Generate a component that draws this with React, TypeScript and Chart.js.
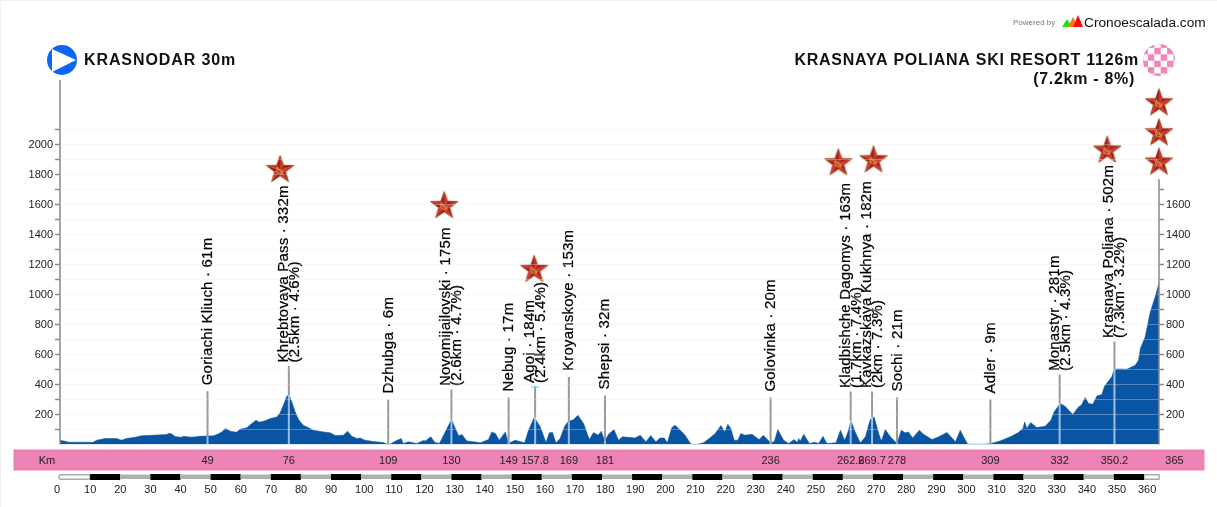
import React, { useEffect, useRef } from "react";
import { Chart, registerables } from "chart.js";
Chart.register(...registerables);

const profileKm = [0,1.7,3,11,12.2,15,18.8,20.5,22,25,27,35.4,36.2,37,38.4,40.4,41,43.7,46.5,51,52.6,53.7,55,56.5,58.7,59.8,62,63.7,65.1,66.2,68.1,69.8,72,73.1,74.2,75.3,76,77,78.1,79.2,80.8,84.2,87.5,89.7,91.4,94.1,95.5,96.9,98.6,99.7,101.3,104.1,107.4,108.7,109.6,111.3,113.3,114,115.7,118.5,120.7,
121.3,123.2,124.4,126,127.4,130,131.3,132.4,133.5,135.1,137.4,139.6,142.3,143.4,144.6,145.9,147.9,148.8,149.5,151.2,154.3,155.6,157.5,159.5,161.4,162.5,163.6,164.7,166.1,167.6,168.7,170.6,172,173.9,175.8,177.2,178.7,179.8,180.9,182.2,184,
185.5,186.8,191,192.7,194.6,196.2,197.9,199.3,200.7,201.7,203.2,204.3,206,207.6,209.6,211.3,213.7,215.6,217.6,219.5,220.8,221.8,222.8,223.9,225.1,226.1,227.5,229.8,232.2,233.6,235.9,237.2,238.4,240.3,242,243.8,244.9,
245.3,245.9,247,248.9,250.6,252,253.4,254.7,257.7,259.2,260.6,261.7,262.7,264.1,265.8,267.5,269.1,270.4,271.9,272.8,274.1,275.8,278,279.4,280.7,281.8,283.2,285.4,286.8,289.6,291.8,294.6,297.4,299,300.1,301.5,306.2,
308.9,312.2,315.6,318.3,319.8,320.4,321.1,322.4,324.4,327.2,329.1,330.2,332.2,333.8,336.4,338.3,339.2,340.5,341.6,343,344.4,346,346.9,349.3,350.1,351.2,354.3,357.1,358.2,358.8,360.4,362.1,363.7,364.8,365];
const profileElev = [28,22,15,15,29,40,40,29,40,49,58,67,75,71,51,49,55,49,55,58,71,84,107,89,82,102,111,140,162,149,158,173,184,211,262,322,330,284,218,167,129,95,84,78,60,62,89,55,40,44,29,20,13,2,2,22,40,7,18,7,27,
24,51,15,7,62,166,107,58,67,24,18,11,33,84,73,29,84,18,13,29,11,95,180,118,13,78,80,11,40,122,151,166,195,140,33,80,62,89,24,69,100,
29,51,44,62,18,60,18,44,44,11,113,129,95,62,2,0,11,40,73,127,84,135,107,29,29,73,62,69,33,62,13,18,100,29,7,33,13,
40,24,69,7,15,7,55,7,11,95,29,84,158,84,11,51,166,184,73,24,100,51,7,95,78,84,44,95,69,33,51,80,18,95,51,2,1,
5,24,51,80,107,151,107,146,113,122,162,218,273,255,200,251,262,313,273,269,324,333,389,451,500,504,502,528,562,640,717,884,984,1061,1085];

const stemKm = [49,76,109,130,149,157.8,169,181,236,262.6,269.7,278,309,332,350.2];
const stemTop = [355,523,300,367,313,387,450,327,313,353,353,313,300,467,687];
const stemFoot = [55,330,2,166,18,180,151,24,13,158,184,7,3,273,500];
const stemNames = ["Goriachi Kliuch · 61m","Khrebtovaya Pass · 332m","Dzhubga · 6m","Novomijailovski · 175m","Nebug · 17m","Agoi · 184m","Kroyanskoye · 153m","Shepsi · 32m","Golovinka · 20m","Kladbishche Dagomys · 163m","Kavkazskaya Kukhnya · 182m","Sochi · 21m","Adler · 9m","Monastyr · 281m","Krasnaya Poliana · 502m"];
const stemSub = ["","(2.5km · 4.6%)","","(2.6km · 4.7%)","","(2.4km · 5.4%)","","","","(1.7km · 7.4%)","(2km · 7.3%)","","","(2.5km · 4.3%)","(7.3km · 3.2%)"];
const stemKmLabels = ["49","76","109","130","149","157.8","169","181","236","262.6","269.7","278","309","332","350.2"];

const starKm = [73.1,127.6,157.5,258.5,270.2,347.8,365,365,365];
const starElev = [1830,1590,1165,1875,1895,1960,1880,2075,2275];

const rulerKm = [0,10,20,30,40,50,60,70,80,90,100,110,120,130,140,150,160,170,180,190,200,210,220,230,240,250,260,270,280,290,300,310,320,330,340,350,360];
const leftTicks = [100,200,300,400,500,600,700,800,900,1000,1100,1200,1300,1400,1500,1600,1700,1800,1900,2000,2100];
const rightTicks = [100,200,300,400,500,600,700,800,900,1000,1100,1200,1300,1400,1500,1600,1700];
const rightAxisTop = 1770;
const leftAxisTop = 2430;

const FONT = '"Liberation Sans", Arial, sans-serif';
const BLUE = "#0a55a3";
const PINK = "#ec82b5";

function makeStar(): HTMLCanvasElement {
  const c = document.createElement("canvas");
  c.width = 32; c.height = 32;
  const g = c.getContext("2d")!;
  const cx = 16, cy = 16, R = 14.5, r = 5.8;
  const pts: [number, number][] = [];
  for (let i = 0; i < 10; i++) {
    const a = -Math.PI / 2 + (i * Math.PI) / 5;
    const q = i % 2 === 0 ? R : r;
    pts.push([cx + q * Math.cos(a), cy + q * Math.sin(a)]);
  }
  g.save();
  g.shadowColor = "rgba(225,195,140,0.9)";
  g.shadowBlur = 2.5;
  g.beginPath();
  pts.forEach((p, i) => (i ? g.lineTo(p[0], p[1]) : g.moveTo(p[0], p[1])));
  g.closePath();
  g.fillStyle = "#e6c896";
  g.fill();
  g.restore();
  g.lineJoin = "round";
  for (let i = 0; i < 10; i++) {
    const a = pts[i], b = pts[(i + 1) % 10];
    g.beginPath(); g.moveTo(cx, cy); g.lineTo(a[0], a[1]); g.lineTo(b[0], b[1]); g.closePath();
    g.fillStyle = i % 2 === 0 ? "#d4352e" : "#a32019";
    g.fill();
  }
  g.beginPath();
  pts.forEach((p, i) => (i ? g.lineTo(p[0], p[1]) : g.moveTo(p[0], p[1])));
  g.closePath();
  g.strokeStyle = "rgba(130,60,30,0.7)";
  g.lineWidth = 0.8;
  g.stroke();
  g.strokeStyle = "#d69a3f";
  g.lineWidth = 1.1;
  g.beginPath(); g.arc(cx, cy, 3.4, 0.2, 3.9); g.stroke();
  g.beginPath(); g.moveTo(cx - 3, cy - 2.5); g.lineTo(cx + 3, cy + 3.5); g.stroke();
  return c;
}

function drawFrame(ctx: CanvasRenderingContext2D) {
  ctx.save();
  ctx.fillStyle = "#f1f1f1";
  ctx.fillRect(0, 0, 1217, 1);
  ctx.fillRect(0, 0, 1, 507);
  ctx.restore();
}

function drawHeader(ctx: CanvasRenderingContext2D) {
  ctx.save();
  // start icon
  ctx.beginPath(); ctx.arc(62, 60, 15, 0, Math.PI * 2); ctx.fillStyle = "#0d66f7"; ctx.fill();
  ctx.beginPath(); ctx.moveTo(52, 49); ctx.lineTo(76, 60); ctx.lineTo(52, 72); ctx.closePath();
  ctx.fillStyle = "#fff"; ctx.fill();
  // finish icon
  ctx.save();
  ctx.beginPath(); ctx.arc(1159, 60, 16, 0, Math.PI * 2); ctx.clip();
  ctx.fillStyle = "#fff"; ctx.fillRect(1143, 44, 32, 32);
  ctx.fillStyle = "#ef85b8";
  for (let i = 0; i < 6; i++) for (let j = 0; j < 6; j++)
    if ((i + j) % 2 === 1) ctx.fillRect(1141.5 + i * 6.4, 41.5 + j * 6.4, 6.4, 6.4);
  ctx.restore();
  ctx.beginPath(); ctx.arc(1159, 60, 15.7, 0, Math.PI * 2);
  ctx.strokeStyle = "rgba(239,133,184,0.35)"; ctx.lineWidth = 0.8; ctx.stroke();
  // titles
  ctx.fillStyle = "#111";
  ctx.textBaseline = "alphabetic";
  ctx.font = `bold 16px ${FONT}`;
  (ctx as any).letterSpacing = "0.9px";
  ctx.textAlign = "left";
  ctx.fillText("KRASNODAR 30m", 84, 65);
  (ctx as any).letterSpacing = "0.75px";
  ctx.textAlign = "right";
  ctx.fillText("KRASNAYA POLIANA SKI RESORT 1126m", 1139, 65);
  (ctx as any).letterSpacing = "0.7px";
  ctx.fillText("(7.2km - 8%)", 1135, 84);
  (ctx as any).letterSpacing = "0px";
  // watermark
  ctx.textAlign = "left";
  ctx.font = `8px ${FONT}`;
  ctx.fillStyle = "#777";
  ctx.fillText("Powered by", 1013, 25);
  const tri = (a: number, b: number, top: number, col: string) => {
    ctx.beginPath(); ctx.moveTo(a, 27); ctx.lineTo((a + b) / 2, top); ctx.lineTo(b, 27); ctx.closePath();
    ctx.fillStyle = col; ctx.fill();
  };
  tri(1062, 1072, 19, "#22e010");
  tri(1068, 1078, 17, "#f57a10");
  tri(1073, 1083, 15, "#f01010");
  ctx.fillStyle = "#111";
  ctx.font = `13.7px ${FONT}`;
  ctx.fillText("Cronoescalada.com", 1084, 27);
  ctx.restore();
}

const overlay = {
  id: "overlay",
  afterDatasetsDraw(chart: any) {
    const { ctx, scales } = chart;
    const x = scales.x, y = scales.y;
    ctx.save();
    // rotated labels
    ctx.fillStyle = "#000";
    ctx.textBaseline = "alphabetic";
    ctx.textAlign = "left";
    stemKm.forEach((k: number, i: number) => {
      const sub = stemSub[i];
      const px = x.getPixelForValue(k);
      const py = y.getPixelForValue(stemTop[i]) - (sub ? 3.5 : 6);
      ctx.save();
      ctx.translate(px, py);
      ctx.rotate(-Math.PI / 2);
      ctx.font = `15px ${FONT}`;
      (ctx as any).letterSpacing = "0.2px";
      ctx.lineWidth = 0.25;
      ctx.strokeStyle = "#000";
      const base = sub ? -1 : 4.5;
      ctx.fillText(stemNames[i], 0, base);
      ctx.strokeText(stemNames[i], 0, base);
      if (sub) {
        ctx.fillText(sub, 0, base + 11);
        ctx.strokeText(sub, 0, base + 11);
      }
      (ctx as any).letterSpacing = "0px";
      ctx.restore();
    });
    // cyan mark above Agoi
    ctx.fillStyle = "#35e0ee";
    ctx.fillRect(x.getPixelForValue(157.8) - 4, y.getPixelForValue(stemTop[5]), 8, 1);
    ctx.restore();
  },
  afterDraw(chart: any) {
    const { ctx, scales } = chart;
    const x = scales.x;
    drawFrame(ctx);
    drawHeader(ctx);
    ctx.save();
    // km band
    ctx.fillStyle = PINK;
    ctx.fillRect(13, 449, 1192, 22);
    ctx.strokeStyle = "#f6bfd9";
    ctx.lineWidth = 1;
    ctx.strokeRect(13.5, 449.5, 1191, 21);
    ctx.fillStyle = "#222";
    ctx.font = `11px ${FONT}`;
    ctx.textAlign = "center";
    ctx.textBaseline = "middle";
    ctx.fillText("Km", 47, 460.5);
    stemKm.forEach((k: number, i: number) => ctx.fillText(stemKmLabels[i], x.getPixelForValue(k), 460.5));
    ctx.fillText("365", 1174.5, 460.5);
    // ruler
    const right = x.getPixelForValue(365);
    ctx.strokeStyle = "#aaa";
    ctx.lineWidth = 1.5;
    ctx.beginPath();
    (ctx as any).roundRect(59, 474.8, x.getPixelForValue(10) - 59, 4.4, 2);
    ctx.stroke();
    ctx.beginPath();
    ctx.rect(x.getPixelForValue(360), 474.8, right - x.getPixelForValue(360), 4.4);
    ctx.stroke();
    rulerKm.forEach((k: number, i: number) => {
      const a = x.getPixelForValue(k), b = x.getPixelForValue(k + 10);
      if (k === 0 || k === 360) return;
      if (i % 2 === 1) {
        ctx.fillStyle = "#000";
        ctx.fillRect(a, 474, b - a, 6);
      } else {
        ctx.fillStyle = "#b0b0b0";
        ctx.fillRect(a, 474.5, b - a, 4.5);
      }
    });
    ctx.fillStyle = "#222";
    ctx.textAlign = "left";
    rulerKm.forEach((k: number) => ctx.fillText(String(k), x.getPixelForValue(k) - 6, 489.5));
    ctx.restore();
  },
};

export default function App() {
  const ref = useRef<HTMLCanvasElement>(null);
  useEffect(() => {
    const star = makeStar();
    const stemDatasets: any[] = [];
    stemKm.forEach((k, i) => {
      stemDatasets.push({
        data: [{ x: k, y: stemFoot[i] }, { x: k, y: stemTop[i] }],
        borderColor: "#999", borderWidth: 2, pointRadius: 0, order: 5, tension: 0,
      });
      stemDatasets.push({
        data: [{ x: k, y: 0 }, { x: k, y: stemFoot[i] }],
        borderColor: "rgba(190,215,240,0.8)", borderWidth: 2, pointRadius: 0, order: 4, tension: 0,
      });
    });
    const chart = new Chart(ref.current!, {
      type: "line",
      data: {
        datasets: [
          {
            data: profileKm.map((k, i) => ({ x: k, y: profileElev[i] })),
            borderColor: BLUE, backgroundColor: BLUE, borderWidth: 0.5, fill: "origin",
            pointRadius: 0, tension: 0, order: 10,
          },
          ...stemDatasets,
          {
            data: [{ x: 365, y: 0 }, { x: 365, y: rightAxisTop }],
            borderColor: "#888", borderWidth: 1.5, pointRadius: 0, order: 3, clip: false,
          },
          {
            data: [{ x: 0, y: 0 }, { x: 0, y: leftAxisTop }],
            borderColor: "#888", borderWidth: 1.5, pointRadius: 0, order: 3, clip: false,
          },
          {
            data: starKm.map((k, i) => ({ x: k, y: starElev[i] })),
            showLine: false, pointStyle: star, pointRadius: 15, order: 1, clip: false,
          },
        ] as any,
      },
      options: {
        animation: false,
        responsive: false,
        devicePixelRatio: 1,
        layout: { padding: { left: 0, right: 0, top: 80, bottom: 62.5 } },
        plugins: { legend: { display: false }, tooltip: { enabled: false } },
        scales: {
          x: { type: "linear", min: 0, max: 365, display: false },
          y: {
            position: "left", min: 0, max: 2430,
            afterFit: (s: any) => { s.width = 60; },
            afterBuildTicks: (s: any) => { s.ticks = leftTicks.map((value) => ({ value })); },
            border: { display: false },
            grid: {
              z: 1, color: "rgba(235,235,235,0.33)", lineWidth: 1,
              tickColor: "#888", tickLength: 5, tickWidth: 1.5,
            },
            ticks: {
              autoSkip: false, padding: 2, color: "#222", font: { family: FONT, size: 11 },
              callback: (v: any) => (v % 200 === 0 ? String(v) : ""),
            },
          },
          y2: {
            position: "right", min: 0, max: 2430,
            afterFit: (s: any) => { s.width = 58; },
            afterBuildTicks: (s: any) => { s.ticks = rightTicks.map((value) => ({ value })); },
            border: { display: false },
            grid: { drawOnChartArea: false, tickColor: "#888", tickLength: 5, tickWidth: 1.5 },
            ticks: {
              autoSkip: false, padding: 2, color: "#222", font: { family: FONT, size: 11 },
              callback: (v: any) => (v % 200 === 0 && v <= 1600 ? String(v) : ""),
            },
          },
        },
      } as any,
      plugins: [overlay as any],
    });
    return () => chart.destroy();
  }, []);
  return (
    <div style={{ position: "fixed", left: 0, top: 0, width: 1217, height: 507, background: "#fff" }}>
      <canvas ref={ref} width={1217} height={507} style={{ display: "block" }} />
    </div>
  );
}
